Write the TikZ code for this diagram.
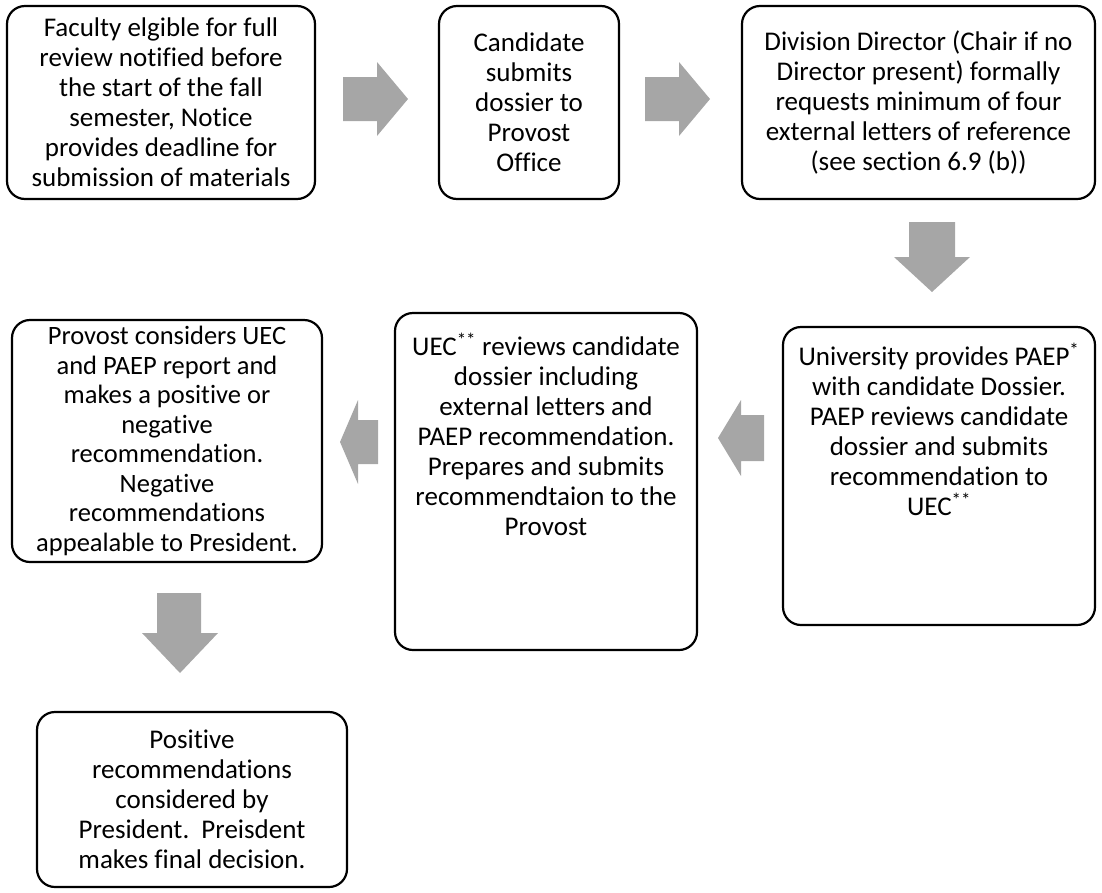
\documentclass[tikz,border=0pt]{standalone}
\usepackage{fontspec}
\setmainfont{Carlito}[Ligatures={NoCommon,NoContextual,NoRequired,NoRare},Contextuals=NoAlternate]
\definecolor{arrowgray}{HTML}{A6A6A6}
\begin{document}
\begin{tikzpicture}[x=1pt,y=-1pt,
  box/.style={draw=black, line width=2.2pt, rounded corners=18pt, fill=white,
    align=center, inner sep=0pt, font=\fontsize{27}{30}\selectfont},
  txt/.style={align=center, inner sep=0pt, anchor=north, font=\fontsize{27}{30}\selectfont},
  blk/.style={fill=arrowgray}]
\useasboundingbox (0,0) rectangle (1102,892);

\node[box, minimum width=308pt, minimum height=193pt] (b1) at (161,102.5)
  {Faculty elgible for full\\review notified before\\the start of the fall\\semester, Notice\\provides deadline for\\submission of materials};
\node[box, minimum width=180pt, minimum height=193pt] (b2) at (529,102.5)
  {Candidate\\submits\\dossier to\\Provost\\Office};
\node[box, minimum width=353pt, minimum height=193pt] (b3) at (918.5,102.5)
  {Division Director (Chair if no\\Director present) formally\\requests minimum of four\\external letters of reference\\(see section 6.9 (b))};
\node[box, minimum width=312pt, minimum height=298pt] (b4) at (939,476) {};
\node[txt] (t4) at (939,343)
  {University provides PAEP\textsuperscript{*}\\with candidate Dossier.\\PAEP reviews candidate\\dossier and submits\\recommendation to\\UEC\textsuperscript{**}};
\node[box, minimum width=302pt, minimum height=337pt] (b5) at (546,481.5) {};
\node[txt] (t5) at (546,333)
  {UEC\textsuperscript{**} reviews candidate\\dossier including\\external letters and\\PAEP recommendation.\\Prepares and submits\\recommendtaion to the\\Provost};
\node[box, minimum width=310pt, minimum height=242pt, font=\fontsize{26.5}{29.5}\selectfont] (b6) at (167,441)
  {Provost considers UEC\\and PAEP report and\\makes a positive or\\negative\\recommendation.\\Negative\\recommendations\\appealable to President.};
\node[box, minimum width=310pt, minimum height=175pt] (b7) at (192,799.5)
  {Positive\\recommendations\\considered by\\President.~~Preisdent\\makes final decision.};

% block arrows
\fill[blk] (343,77) -- (377,77) -- (377,62) -- (408,99) -- (377,136) -- (377,121) -- (343,121) -- cycle;
\fill[blk] (645,77) -- (679,77) -- (679,62) -- (710,99) -- (679,136) -- (679,121) -- (645,121) -- cycle;
\fill[blk] (909,222) -- (955,222) -- (955,257) -- (970,257) -- (932,292) -- (894,257) -- (909,257) -- cycle;
\fill[blk] (764,415) -- (741,415) -- (741,400) -- (718,438) -- (741,476) -- (741,461) -- (764,461) -- cycle;
\fill[blk] (378,420) -- (358,420) -- (358,400) -- (340,442) -- (358,484) -- (358,464) -- (378,464) -- cycle;
\fill[blk] (157,593) -- (201,593) -- (201,633) -- (218,633) -- (180,673) -- (142,633) -- (157,633) -- cycle;
\end{tikzpicture}
\end{document}
